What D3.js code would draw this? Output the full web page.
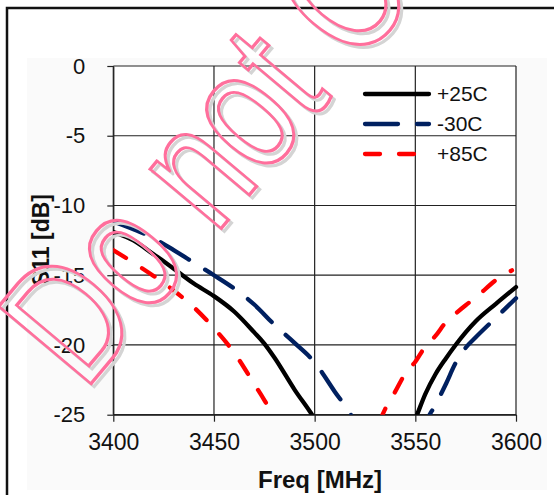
<!DOCTYPE html>
<html><head><meta charset="utf-8">
<script src="https://cdn.jsdelivr.net/npm/d3@7"></script>
<style>body{margin:0;background:#fff}svg{display:block}text{font-family:"Liberation Sans",Arial,sans-serif}</style>
</head><body>
<svg id="c" width="554" height="495"></svg>
<script>
// ---- data ----
const xTicks = [3400, 3450, 3500, 3550, 3600];
const yTicks = [0, -5, -10, -15, -20, -25];
const seriesNames = ["+25C", "-30C", "+85C"];

const freq25 = [3400,3410,3420,3426,3440,3450,3460,3470,3475,3480,3490,3500,3510,3525,3540,3550,3555,3560,3565,3570,3580,3590,3600];
const s11_25 = [-11.9,-12.5,-13.5,-14.1,-15.6,-16.5,-17.6,-19.1,-19.9,-20.9,-23.2,-25.3,-28,-31,-28,-25.3,-23.5,-22.1,-21.0,-20.0,-18.3,-17.05,-15.85];

const freqM30 = [3400,3410,3420,3430,3440,3450,3460,3470,3480,3490,3500,3510,3518,3525,3540,3550,3556,3560,3565,3570,3575,3580,3590,3600];
const s11_m30 = [-11.15,-11.7,-12.35,-13.2,-14.1,-15.0,-15.95,-17.1,-18.55,-19.85,-21.25,-23.35,-25.0,-27,-28.5,-27.5,-25.3,-24.3,-22.85,-21.3,-20.2,-19.45,-18.05,-16.65];

const freq85 = [3400,3410,3420,3430,3440,3450,3460,3470,3475,3480,3490,3505,3520,3530,3535,3540,3545,3550,3555,3560,3565,3570,3575,3580,3590,3598];
const s11_85 = [-13.2,-14.1,-15.05,-16.1,-17.3,-18.8,-20.55,-22.8,-23.95,-25.2,-28,-30,-28.5,-26.2,-24.6,-23.35,-22.05,-21.2,-20.1,-19.35,-18.4,-17.75,-17.15,-16.6,-15.35,-14.65];

const watermark = "Do not Copy";

// ---- layout ----
const svg = d3.select("#c");
const L = 113.3, R = 516, T = 66, B = 414.7;
const x = d3.scaleLinear().domain([3400, 3600]).range([L, R]);
const y = d3.scaleLinear().domain([-25, 0]).range([B, T]);

// outer frame & faint chart area
svg.append("rect").attr("x", 27).attr("y", 58).attr("width", 520).attr("height", 432).attr("fill", "#fafafa");
svg.append("rect").attr("x", L).attr("y", T).attr("width", R - L).attr("height", B - T).attr("fill", "#fff");
svg.append("path").attr("d", "M7,495 V8 H554").attr("fill", "none").attr("stroke", "#111").attr("stroke-width", 2.5);

// grid
const grid = svg.append("g").attr("stroke", "#222").attr("stroke-width", 1.2);
grid.selectAll(".vx").data(xTicks).join("line")
  .attr("x1", d => x(d)).attr("x2", d => x(d)).attr("y1", T).attr("y2", B);
grid.selectAll(".hy").data(yTicks).join("line")
  .attr("y1", d => y(d)).attr("y2", d => y(d)).attr("x1", L).attr("x2", R);

// axes
const ax = svg.append("g").attr("transform", `translate(0,${B})`)
  .call(d3.axisBottom(x).tickValues(xTicks).tickSize(7).tickSizeOuter(0).tickPadding(12).tickFormat(d3.format("d")));
const ay = svg.append("g").attr("transform", `translate(${L},0)`)
  .call(d3.axisLeft(y).tickValues(yTicks).tickSize(6).tickSizeOuter(0).tickPadding(22).tickFormat(d => d));
[ax, ay].forEach(g => {
  g.select(".domain").attr("stroke", "#222").attr("stroke-width", 1.2);
  g.selectAll(".tick line").attr("stroke", "#222").attr("stroke-width", 1.2);
  g.selectAll("text").attr("fill", "#111").style("font-size", "22px").style("font-family", '"Liberation Sans",Arial,sans-serif');
});
ax.selectAll("text").style("font-size", "23px");

// axis titles
svg.append("text").attr("x", 320).attr("y", 488).attr("text-anchor", "middle")
  .style("font-size", "24px").style("font-weight", "bold").attr("fill", "#111").text("Freq [MHz]");
svg.append("text").attr("transform", "translate(49,240) rotate(-90)").attr("text-anchor", "middle")
  .style("font-size", "23px").style("font-weight", "bold").attr("fill", "#111").text("S11 [dB]");

// curves
svg.append("clipPath").attr("id", "pc").append("rect")
  .attr("x", L).attr("y", T - 5).attr("width", R - L + 5).attr("height", B - T + 5);
const series = [
  {name: seriesNames[0], f: freq25, v: s11_25, color: "#000000", dash: null},
  {name: seriesNames[1], f: freqM30, v: s11_m30, color: "#002060", dash: "33,19"},
  {name: seriesNames[2], f: freq85, v: s11_85, color: "#ff0000", dash: "15,19"}
];
const line = d3.line().x(d => x(d[0])).y(d => y(d[1])).curve(d3.curveMonotoneX);
const cg = svg.append("g").attr("clip-path", "url(#pc)");
series.forEach(s => {
  cg.append("path").datum(s.f.map((f, i) => [f, s.v[i]]))
    .attr("d", line).attr("fill", "none").attr("stroke", s.color).attr("stroke-width", 4.3)
    .attr("stroke-linecap", "round").attr("stroke-dasharray", s.dash);
});

// legend
const lg = svg.append("g");
series.forEach((s, i) => {
  const yy = 94 + i * 30;
  lg.append("line").attr("x1", 365).attr("x2", 429).attr("y1", yy).attr("y2", yy)
    .attr("stroke", s.color).attr("stroke-width", 4.3).attr("stroke-linecap", "round").attr("stroke-dasharray", s.dash);
  lg.append("text").attr("x", 437).attr("y", yy + 7).style("font-size", "21px").attr("fill", "#111").text(s.name);
});

// watermark (clipped at the picture edge, as in the reference)
const wm = svg.append("g").style("pointer-events", "none");
[[3, 3, "#d4d4d4"], [0, 0, "#ff6f9c"]].forEach(([dx, dy, c]) => {
  wm.append("text").attr("transform", `translate(${84 + dx},${392 + dy}) rotate(-50) scale(0.75,1)`)
    .style("font-size", "175px").attr("fill", "none").attr("stroke", c).attr("stroke-width", 3)
    .attr("vector-effect", "non-scaling-stroke").text(watermark);
});
</script>
</body></html>
